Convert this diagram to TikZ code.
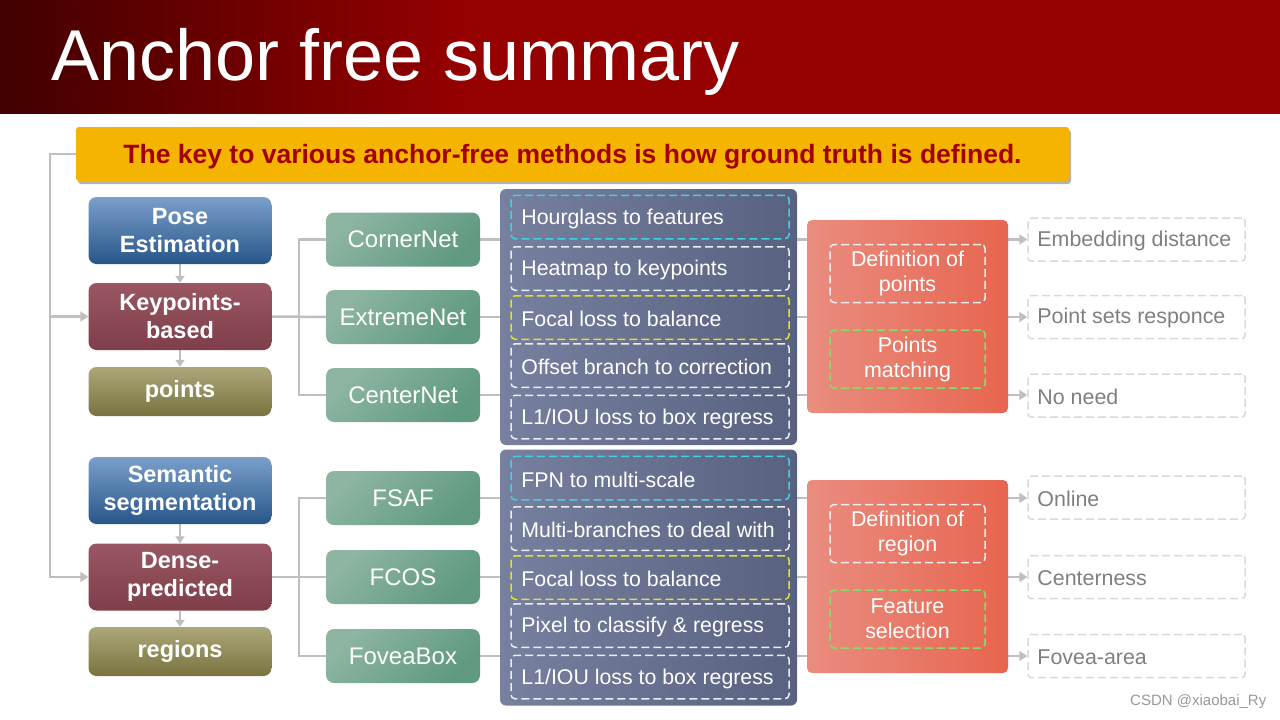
\documentclass[tikz,border=0pt]{standalone}
\usepackage{fontspec}
\setmainfont{Liberation Sans}
\usetikzlibrary{arrows.meta,backgrounds,shadows,calc}
\definecolor{bandDark}{HTML}{420000}
\definecolor{bandRed}{HTML}{950000}
\definecolor{bannerY}{HTML}{F4B400}
\definecolor{bannerT}{HTML}{A30000}
\definecolor{connC}{HTML}{BFBFBF}
\definecolor{blueA}{HTML}{7A9FCB}
\definecolor{blueB}{HTML}{285689}
\definecolor{maroonA}{HTML}{9A5663}
\definecolor{maroonB}{HTML}{7E3E4A}
\definecolor{oliveA}{HTML}{ACA77A}
\definecolor{oliveB}{HTML}{7A733F}
\definecolor{greenA}{HTML}{8DB5A2}
\definecolor{greenB}{HTML}{5F9980}
\definecolor{panelA}{HTML}{7880A0}
\definecolor{panelB}{HTML}{58617F}
\definecolor{orangeA}{HTML}{E98D80}
\definecolor{orangeB}{HTML}{E8654F}
\definecolor{dashCyan}{HTML}{3FD2E2}
\definecolor{dashYellow}{HTML}{E2E22A}
\definecolor{dashWhite}{HTML}{ECECF2}
\definecolor{dashGreen}{HTML}{8CDA6A}
\definecolor{resBorder}{HTML}{D9D9D9}
\definecolor{resText}{HTML}{7F7F7F}
\pgfdeclarehorizontalshading{bandshade}{100bp}{color(0bp)=(bandDark); color(25bp)=(bandDark); color(43bp)=(bandRed); color(100bp)=(bandRed)}
\begin{document}
\begin{tikzpicture}[x=1pt,y=-1pt,
  conn/.style={draw=connC,line width=2.5pt},
  arr/.style={-{Triangle[length=8pt,width=10pt]}},
  sarr/.style={-{Triangle[length=7pt,width=9pt]}},
  leftbox/.style={rounded corners=8pt,minimum width=183pt,minimum height=67pt,inner sep=0pt,align=center,
    font=\fontsize{23.5}{28}\selectfont\bfseries,text=white,shading angle=45},
  bluebox/.style={leftbox,top color=blueA,bottom color=blueB},
  maroonbox/.style={leftbox,top color=maroonA,bottom color=maroonB},
  olivebox/.style={leftbox,top color=oliveA,bottom color=oliveB,minimum height=49pt},
  method/.style={rounded corners=8pt,minimum width=154pt,minimum height=54pt,inner sep=0pt,
    top color=greenA,bottom color=greenB,shading angle=45,text=white,font=\fontsize{24}{28}\selectfont},
  panel/.style={rounded corners=6pt,minimum width=297pt,minimum height=256pt,inner sep=0pt,
    left color=panelA,right color=panelB},
  rowbox/.style={draw=#1,dashed,dash pattern=on 8pt off 4pt,line width=1.5pt,rounded corners=4pt,
    minimum width=278pt,minimum height=43.5pt,inner sep=0pt},
  rowtext/.style={anchor=west,inner sep=0pt,yshift=-1.5pt,text=white,font=\fontsize{21.3}{25}\selectfont},
  orangebox/.style={rounded corners=5pt,minimum width=201pt,minimum height=193pt,inner sep=0pt,
    left color=orangeA,right color=orangeB},
  innerbox/.style={draw=#1,dashed,dash pattern=on 8pt off 4pt,line width=1.5pt,rounded corners=4pt,
    minimum width=155pt,minimum height=58pt,inner sep=0pt,align=center,text=white,
    font=\fontsize{21.4}{25}\selectfont},
  resbox/.style={draw=resBorder,dashed,dash pattern=on 8pt off 4pt,line width=1.5pt,rounded corners=3pt,
    minimum width=217pt,minimum height=43pt,inner sep=0pt},
  restext/.style={anchor=west,inner sep=0pt,yshift=-1pt,text=resText,font=\fontsize{21.4}{25}\selectfont}
]
\useasboundingbox (0,0) rectangle (1280,720);

% header band
\shade[shading=bandshade] (0,0) rectangle (1280,113);
\node[anchor=base west,inner sep=0pt,text=white,font=\fontsize{72}{80}\selectfont] (title) at (51,80) {Anchor free summary};

% banner
\node[rounded corners=3pt,fill=bannerY,minimum width=993pt,minimum height=54pt,inner sep=0pt,text depth=0pt,
  drop shadow={shadow xshift=2pt,shadow yshift=-3pt,opacity=0.3,fill=black},
  text=bannerT,font=\fontsize{26.5}{30}\selectfont\bfseries] (banner) at (572.5,154) {The key to various anchor-free methods is how ground truth is defined.};

% left column
\node[bluebox] (pose) at (180,230.5) {Pose\\Estimation};
\node[maroonbox] (kp) at (180,316.5) {Keypoints-\\based};
\node[olivebox] (pts) at (180,391.5) {points};
\node[bluebox] (sem) at (180,490.5) {Semantic\\segmentation};
\node[maroonbox] (dense) at (180,577) {Dense-\\predicted};
\node[olivebox] (reg) at (180,651.5) {regions};

% methods
\node[method] (corner) at (403,239.5) {CornerNet};
\node[method] (extreme) at (403,317) {ExtremeNet};
\node[method] (center) at (403,395) {CenterNet};
\node[method] (fsaf) at (403,498) {FSAF};
\node[method] (fcos) at (403,577) {FCOS};
\node[method] (fovea) at (403,656) {FoveaBox};

% panels
\node[panel] (p1) at (648.5,317) {};
\node[panel] (p2) at (648.5,577.5) {};

\node[rowbox=dashCyan] (a1) at (650,217) {};
\node[rowbox=dashWhite] (a2) at (650,268.5) {};
\node[rowbox=dashYellow] (a3) at (650,317.5) {};
\node[rowbox=dashWhite] (a4) at (650,365.5) {};
\node[rowbox=dashWhite] (a5) at (650,417) {};
\node[rowtext] at ([xshift=11pt]a1.west) {Hourglass to features};
\node[rowtext] at ([xshift=11pt]a2.west) {Heatmap to keypoints};
\node[rowtext] at ([xshift=11pt]a3.west) {Focal loss to balance};
\node[rowtext] at ([xshift=11pt]a4.west) {Offset branch to correction};
\node[rowtext] at ([xshift=11pt]a5.west) {L1/IOU loss to box regress};

\node[rowbox=dashCyan] (b1) at (650,478) {};
\node[rowbox=dashWhite] (b2) at (650,528.5) {};
\node[rowbox=dashYellow] (b3) at (650,577.5) {};
\node[rowbox=dashWhite] (b4) at (650,625.5) {};
\node[rowbox=dashWhite] (b5) at (650,677) {};
\node[rowtext] at ([xshift=11pt]b1.west) {FPN to multi-scale};
\node[rowtext] at ([xshift=11pt]b2.west) {Multi-branches to deal with};
\node[rowtext] at ([xshift=11pt]b3.west) {Focal loss to balance};
\node[rowtext] at ([xshift=11pt]b4.west) {Pixel to classify \& regress};
\node[rowtext] at ([xshift=11pt]b5.west) {L1/IOU loss to box regress};

% orange boxes
\node[orangebox] (o1) at (907.5,316.5) {};
\node[orangebox] (o2) at (907.5,576.5) {};
\node[innerbox=dashWhite] (i1) at (907.5,273.5) {Definition of\\points};
\node[innerbox=dashGreen] (i2) at (907.5,359) {Points\\matching};
\node[innerbox=dashWhite] (i3) at (907.5,533.5) {Definition of\\region};
\node[innerbox=dashGreen] (i4) at (907.5,619) {Feature\\selection};

% results
\node[resbox] (r1) at (1136.5,239.5) {};
\node[resbox] (r2) at (1136.5,317) {};
\node[resbox] (r3) at (1136.5,395.5) {};
\node[resbox] (r4) at (1136.5,497.5) {};
\node[resbox] (r5) at (1136.5,577) {};
\node[resbox] (r6) at (1136.5,656) {};
\node[restext] at ([xshift=10pt]r1.west) {Embedding distance};
\node[restext] at ([xshift=10pt]r2.west) {Point sets responce};
\node[restext] at ([xshift=10pt]r3.west) {No need};
\node[restext] at ([xshift=10pt]r4.west) {Online};
\node[restext] at ([xshift=10pt]r5.west) {Centerness};
\node[restext] at ([xshift=10pt]r6.west) {Fovea-area};

\node[anchor=west,inner sep=0pt,text=black!40,font=\fontsize{15}{18}\selectfont] (csdn) at (1130,702) {CSDN @xiaobai\_Ry};

% connectors
\begin{scope}[on background layer]
  \coordinate (lbx) at (50,154);
  \draw[conn,arr] (banner.west) -- (lbx) |- (dense.west);
  \draw[conn,arr] (kp.west -| lbx) -- (kp.west);
  \draw[conn,sarr,line width=2pt] (pose.south) -- (kp.north);
  \draw[conn,sarr,line width=2pt] (kp.south) -- (pts.north);
  \draw[conn,sarr,line width=2pt] (sem.south) -- (dense.north);
  \draw[conn,sarr,line width=2pt] (dense.south) -- (reg.north);
  \coordinate (kj) at (299,317);
  \draw[conn] (kp.east) -- (extreme.west);
  \draw[conn] (corner.west) -- (corner.west -| kj) -- (center.west -| kj) -- (center.west);
  \draw[conn] (dense.east) -- (fcos.west);
  \draw[conn] (fsaf.west) -- (fsaf.west -| kj) -- (fovea.west -| kj) -- (fovea.west);
  \draw[conn,arr] (corner.east) -- (r1.west);
  \draw[conn,arr] (extreme.east) -- (r2.west);
  \draw[conn,arr] (center.east) -- (center.east -| r3.west);
  \draw[conn,arr] (fsaf.east) -- (fsaf.east -| r4.west);
  \draw[conn,arr] (fcos.east) -- (r5.west);
  \draw[conn,arr] (fovea.east) -- (r6.west);
\end{scope}
\end{tikzpicture}
\end{document}
